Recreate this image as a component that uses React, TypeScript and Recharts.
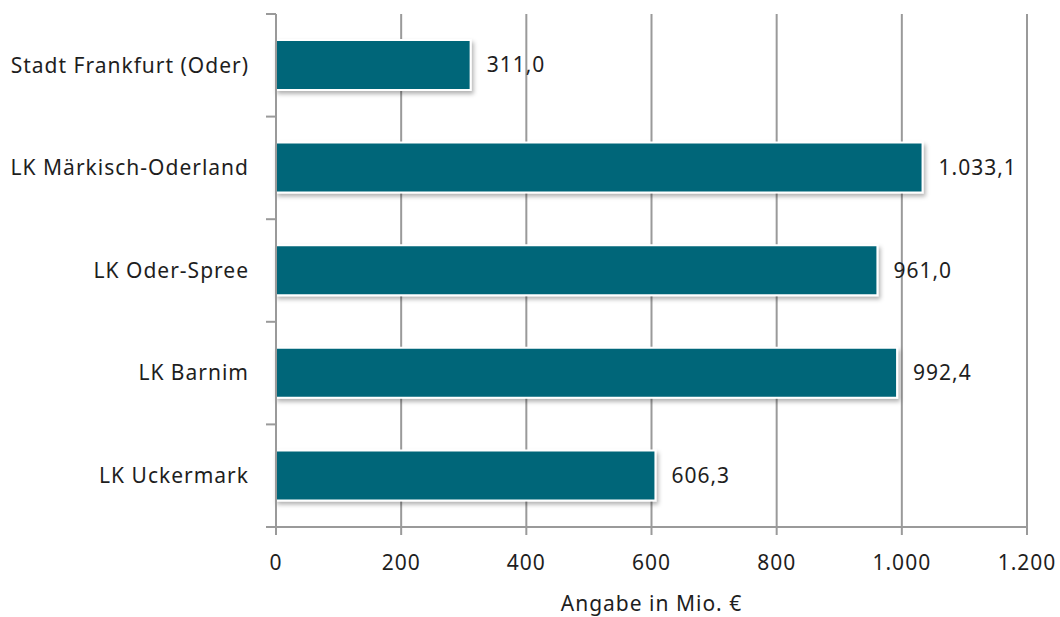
import { Bar, BarChart, CartesianGrid, LabelList, XAxis, YAxis } from "recharts";

const regions = [
  "Stadt Frankfurt (Oder)",
  "LK Märkisch-Oderland",
  "LK Oder-Spree",
  "LK Barnim",
  "LK Uckermark",
];
const spending = [311.0, 1033.1, 961.0, 992.4, 606.3];
const xTicks = [0, 200, 400, 600, 800, 1000, 1200];

const data = regions.map((name, i) => ({ name, value: spending[i] }));

const FONT = "'Noto Sans', sans-serif";
const GRID = "#9a9a9a";
const BAR = "#006679";
const TEXT = "#1e1e1e";
const FS = 21;
const LS = 1;

const fmtAxis = (v: number) => v.toLocaleString("de-DE");
const fmtLabel = (v: number) =>
  v.toLocaleString("de-DE", { minimumFractionDigits: 1, maximumFractionDigits: 1 });

function CategoryTick(props: any) {
  const { x, y, payload, index } = props;
  const half = payload?.offset ?? 51;
  return (
    <g>
      {index === 0 && <line x1={x - 10} x2={x} y1={y - half} y2={y - half} stroke={GRID} strokeWidth={2} />}
      <line x1={x - 10} x2={x} y1={y + half} y2={y + half} stroke={GRID} strokeWidth={2} />
      <text
        x={x - 27}
        y={y}
        dy="0.35em"
        textAnchor="end"
        fill={TEXT}
        fontSize={FS}
        fontFamily={FONT}
        letterSpacing={LS}
      >
        {payload.value}
      </text>
    </g>
  );
}

export default function App() {
  return (
    <div style={{ position: "absolute", left: 0, top: 0, background: "#fff" }}>
      <svg width={0} height={0} style={{ position: "absolute" }}>
        <defs>
          <filter id="barShadow" x="-10%" y="-20%" width="130%" height="160%">
            <feDropShadow dx="2" dy="3" stdDeviation="2" floodColor="#000" floodOpacity="0.3" />
          </filter>
        </defs>
      </svg>
      <BarChart
        width={1060}
        height={617}
        data={data}
        layout="vertical"
        margin={{ top: 14, right: 33, bottom: 0, left: 0 }}
        barCategoryGap="25%"
      >
        <CartesianGrid horizontal={false} stroke={GRID} strokeWidth={2} />
        <XAxis
          type="number"
          domain={[0, 1200]}
          ticks={xTicks}
          tickFormatter={fmtAxis}
          stroke={GRID}
          strokeWidth={2}
          tickSize={8}
          tickMargin={20}
          height={90}
          tick={{ fill: TEXT, fontSize: FS, fontFamily: FONT, letterSpacing: LS }}
          label={{
            value: "Angabe in Mio. €",
            position: "insideBottom",
            offset: 6,
            fill: TEXT,
            fontSize: FS,
            fontFamily: FONT,
            letterSpacing: LS,
          }}
        />
        <YAxis
          type="category"
          dataKey="name"
          width={276}
          stroke={GRID}
          strokeWidth={2}
          tickLine={false}
          tickSize={0}
          tickMargin={0}
          tick={<CategoryTick />}
          interval={0}
        />
        <Bar
          dataKey="value"
          fill={BAR}
          stroke="#ffffff"
          strokeWidth={2}
          barSize={50}
          filter="url(#barShadow)"
          isAnimationActive={false}
        >
          <LabelList
            dataKey="value"
            position="right"
            offset={16}
            formatter={(v: any) => fmtLabel(Number(v))}
            fill={TEXT}
            fontSize={FS}
            fontFamily={FONT}
            letterSpacing={LS}
          />
        </Bar>
      </BarChart>
    </div>
  );
}
